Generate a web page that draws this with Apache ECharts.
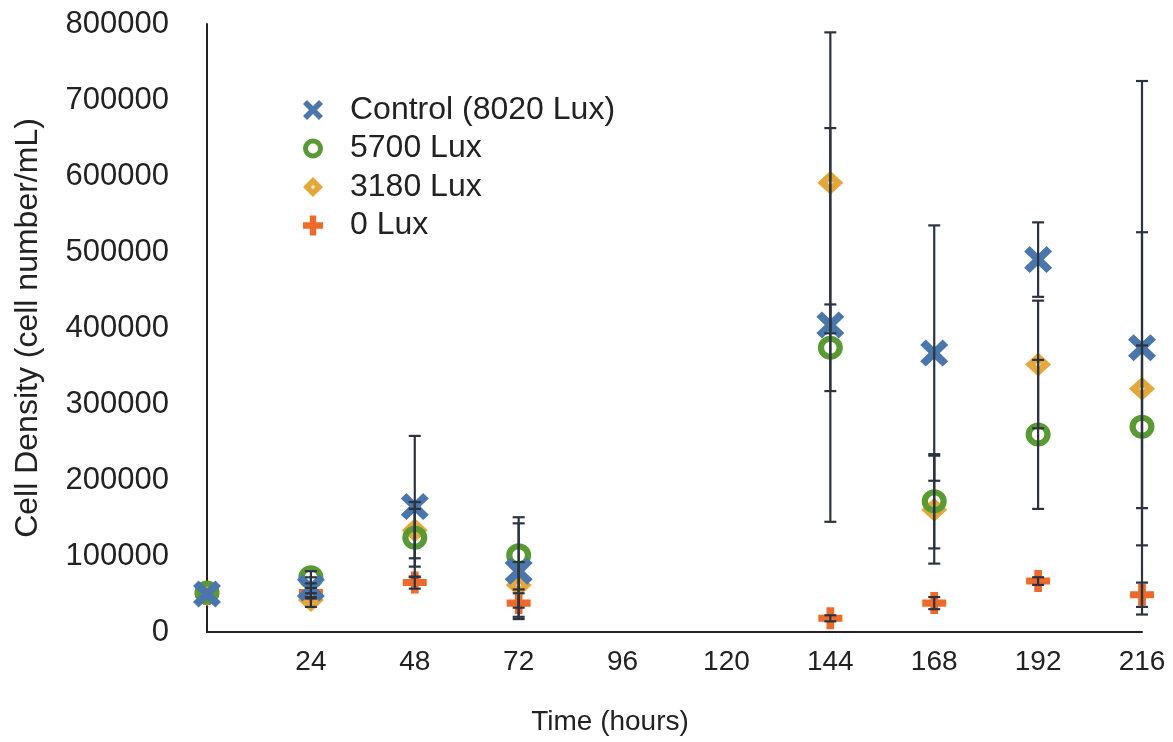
<!DOCTYPE html>
<html>
<head>
<meta charset="utf-8">
<script src="https://cdn.jsdelivr.net/npm/echarts@6/dist/echarts.min.js"></script>
<style>
html,body{margin:0;padding:0;background:#fff;}
#chart{width:1173px;height:742px;}
</style>
</head>
<body>
<div id="chart"></div>
<script>
// ---- data ----
const times = [0, 24, 48, 72, 144, 168, 192, 216];
const xTicks = [24, 48, 72, 96, 120, 144, 168, 192, 216];
const seriesNames = ['Control (8020 Lux)', '5700 Lux', '3180 Lux', '0 Lux'];
const control = [50000, 58000, 165000, 80000, 404000, 367000, 490000, 374000];
const controlErr = [0, 14000, 93000, 63000, 259000, 168000, 49000, 351000];
const lux5700 = [52000, 72000, 124000, 101000, 374000, 172000, 260000, 270000];
const lux5700Err = [0, 8000, 38000, 50000, 57000, 62000, 98000, 107000];
const lux3180 = [50000, 42000, 134000, 62000, 591000, 161000, 352000, 320000];
const lux3180Err = [0, 9000, 37000, 30000, 198000, 71000, 84000, 206000];
const lux0 = [50000, 52000, 65000, 38000, 18000, 38000, 67000, 49000];
const lux0Err = [0, 6000, 8000, 18000, 4000, 8000, 5000, 16000];

// ---- styles ----
const FONT = '"Liberation Sans", Arial, Helvetica, sans-serif';
const colors = ['#4a76ab', '#5a9a34', '#e4a73b', '#ee6a2b'];
const symX = 'path://M0,2 L2,0 L5,3 L8,0 L10,2 L7,5 L10,8 L8,10 L5,7 L2,10 L0,8 L3,5 Z';
const symO = 'path://M5,0 A5,5 0 1,1 5,10 A5,5 0 1,1 5,0 Z M5,2.5 A2.5,2.5 0 1,0 5,7.5 A2.5,2.5 0 1,0 5,2.5 Z';
const symD = 'path://M5,0 L10,5 L5,10 L0,5 Z M5,4 L4,5 L5,6 L6,5 Z';
const symP = 'path://M3.4,0 L6.6,0 L6.6,3.4 L10,3.4 L10,6.6 L6.6,6.6 L6.6,10 L3.4,10 L3.4,6.6 L0,6.6 L0,3.4 L3.4,3.4 Z';
const symbols = [symX, symO, symD, symP];
const sizes = [[28, 27], [25, 24], [26, 24], [24, 22]];
const values = [control, lux5700, lux3180, lux0];
const errs = [controlErr, lux5700Err, lux3180Err, lux0Err];

function pts(v) { return times.map((t, i) => [t, v[i]]); }
function errData(v, e) {
  const out = [];
  times.forEach((t, i) => { if (e[i] > 0) out.push([t, v[i] - e[i], v[i] + e[i]]); });
  return out;
}

const series = [];
// draw order: 0 Lux first, Control last (on top)
for (let k = 3; k >= 0; k--) {
  series.push({
    type: 'scatter',
    name: seriesNames[k],
    data: pts(values[k]),
    symbol: symbols[k],
    symbolSize: sizes[k],
    itemStyle: { color: colors[k], opacity: 1 },
    z: 2
  });
}
for (let k = 3; k >= 0; k--) {
  series.push({
    type: 'custom',
    name: 'err' + k,
    data: errData(values[k], errs[k]),
    encode: { x: 0, y: [1, 2] },
    z: 5,
    silent: true,
    renderItem: function (params, api) {
      const x = api.value(0);
      const lo = api.coord([x, api.value(1)]);
      const hi = api.coord([x, api.value(2)]);
      const hw = 6;
      const st = { stroke: '#2c3340', lineWidth: 2.2 };
      return {
        type: 'group',
        children: [
          { type: 'line', shape: { x1: lo[0], y1: lo[1], x2: hi[0], y2: hi[1] }, style: st },
          { type: 'line', shape: { x1: lo[0] - hw, y1: lo[1], x2: lo[0] + hw, y2: lo[1] }, style: st },
          { type: 'line', shape: { x1: hi[0] - hw, y1: hi[1], x2: hi[0] + hw, y2: hi[1] }, style: st }
        ]
      };
    }
  });
}

const chart = echarts.init(document.getElementById('chart'));
chart.setOption({
  animation: false,
  backgroundColor: '#ffffff',
  grid: { left: 207, right: 31, top: 24, bottom: 110, containLabel: false },
  legend: {
    data: seriesNames,
    orient: 'vertical',
    left: 298,
    top: 89,
    itemWidth: 20,
    itemHeight: 20,
    itemGap: 6.5,
    textStyle: { fontFamily: FONT, fontSize: 32, lineHeight: 32, color: '#222', padding: [0, 0, 0, 22] },
    selectedMode: false
  },
  xAxis: {
    type: 'value',
    min: 0,
    max: 216,
    interval: 24,
    axisLine: { show: true, lineStyle: { color: '#222', width: 2 } },
    axisTick: { show: false },
    splitLine: { show: false },
    axisLabel: {
      fontFamily: FONT, fontSize: 28, color: '#222', margin: 16,
      formatter: function (v) { return xTicks.indexOf(v) >= 0 ? String(v) : ''; }
    }
  },
  yAxis: {
    type: 'value',
    min: 0,
    max: 800000,
    interval: 100000,
    axisLine: { show: true, lineStyle: { color: '#222', width: 2 } },
    axisTick: { show: false },
    splitLine: { show: false },
    axisLabel: {
      fontFamily: FONT, fontSize: 31, color: '#222', margin: 38,
      formatter: function (v) { return String(v); }
    }
  },
  graphic: [
    {
      type: 'text',
      x: 610, y: 722,
      style: { text: 'Time (hours)', fontFamily: FONT, fontSize: 28, fill: '#222', textAlign: 'center', textVerticalAlign: 'middle' }
    },
    {
      type: 'text',
      rotation: Math.PI / 2,
      x: 28, y: 328,
      style: { text: 'Cell Density (cell number/mL)', fontFamily: FONT, fontSize: 32, fill: '#222', textAlign: 'center', textVerticalAlign: 'middle' }
    }
  ],
  series: series
});
</script>
</body>
</html>
